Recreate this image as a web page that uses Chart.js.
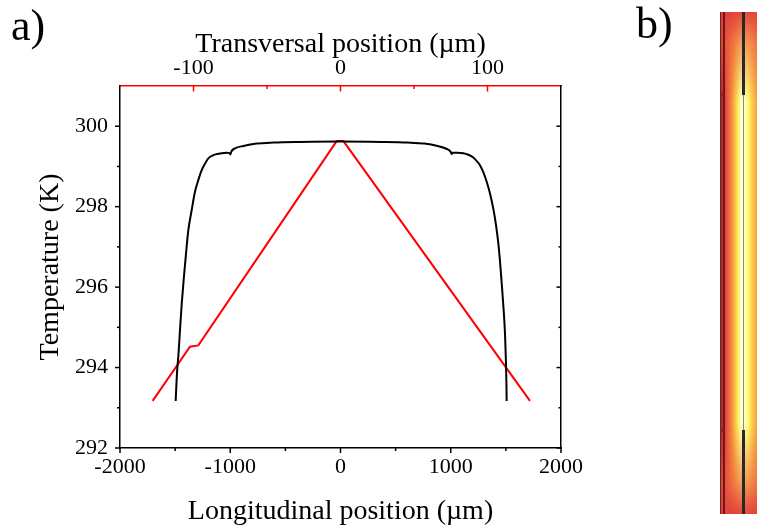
<!DOCTYPE html>
<html><head><meta charset="utf-8">
<script src="https://cdn.jsdelivr.net/npm/chart.js@4/dist/chart.umd.min.js"></script>
<style>
html,body{margin:0;padding:0;background:#fff;width:757px;height:529px;overflow:hidden;}
#wrap{position:relative;width:757px;height:529px;}
canvas{position:absolute;left:0;top:0;}
.lbl{position:absolute;font-family:"Liberation Serif","Times New Roman",serif;font-size:44px;color:#000;line-height:1;}
#panelb{position:absolute;left:720px;top:12px;width:40px;height:502px;overflow:hidden;
 background:linear-gradient(to right,#9a2a2a 0px,#b83030 3px,#e04040 5px,#f06a40 9px,#f8a040 13px,#fce050 17px,#ffff90 20px,#fffff0 22px,#ffffd0 24px,#ffff70 28px,#fcd050 32px,#f8a040 37px);}
#panelb .fade{position:absolute;left:0;width:40px;height:90px;}
#panelb .ln{position:absolute;}
</style></head>
<body><div id="wrap">
<canvas id="c" width="757" height="529"></canvas>
<div class="lbl" style="left:11px;top:4px">a)</div>
<div class="lbl" style="left:636px;top:2px">b)</div>
<div id="panelb">
 <div class="fade" style="top:0;background:linear-gradient(to bottom,rgba(225,60,60,0.95) 0px,rgba(235,90,60,0.65) 30px,rgba(240,130,60,0) 90px);"></div>
 <div class="fade" style="bottom:0;background:linear-gradient(to top,rgba(225,60,60,0.95) 0px,rgba(235,90,60,0.65) 30px,rgba(240,130,60,0) 90px);"></div>
 <div class="ln" style="left:3px;top:0;width:1.5px;height:502px;background:#6a1a1a;"></div>
 <div class="ln" style="left:0;top:0;width:1px;height:502px;background:#7a2020;"></div>
 <div class="ln" style="left:22px;top:0;width:2.5px;height:83px;background:#2a2a1a;"></div>
 <div class="ln" style="left:22.5px;top:83px;width:1.5px;height:335px;background:#8a8a78;"></div>
 <div class="ln" style="left:22px;top:418px;width:2.5px;height:84px;background:#2a2a1a;"></div>
 <div class="ln" style="left:0;top:81px;width:4px;height:4px;background:#8a2020;"></div>
 <div class="ln" style="left:0;top:416px;width:4px;height:4px;background:#8a2020;"></div>
</div>
</div>
<script>
// Black curve: temperature vs longitudinal position (µm)
const longX = [-1495,-1488,-1481,-1471,-1456,-1440,-1420,-1401,-1380,-1350,-1320,-1290,-1259,-1229,-1199,-1154,-1093,-1032,-1005,-998,-990,-957,-881,-760,-609,-367,0,
               367,609,760,881,960,998,1008,1018,1060,1114,1160,1205,1240,1265,1296,1326,1356,1386,1410,1431,1448,1462,1478,1492,1500,1505,1507];
const longT = [293.17,293.6,293.95,294.27,294.93,295.59,296.26,296.84,297.42,297.91,298.37,298.66,298.91,299.07,299.20,299.28,299.32,299.34,299.33,299.30,299.37,299.45,299.51,299.57,299.595,299.61,299.62,
               299.61,299.595,299.57,299.51,299.44,299.37,299.31,299.34,299.34,299.33,299.29,299.22,299.12,299.03,298.85,298.62,298.33,297.95,297.55,297.10,296.6,296.10,295.5,294.85,294.2,293.6,293.17];
// Red curve: temperature vs transversal position (µm)
const transX = [-127.8,-102.4,-96.7,-2.6,2.0,128.9];
const transT = [293.17,294.52,294.55,299.63,299.63,293.17];
// Tick values
const xMajor = [-2000,-1000,0,1000,2000];
const xMinor = [-1500,-500,500,1500];
const x2Major = [-100,0,100];
const x2Minor = [-50,50];
const yMajor = [292,294,296,298,300];
const yMinor = [293,295,297,299];

const SERIF = '"Liberation Serif","Times New Roman",serif';
Chart.defaults.color = '#000';
Chart.defaults.font.family = SERIF;

const tickPlugin = {
  id: 'minorTicks',
  afterDraw(chart) {
    const ctx = chart.ctx, s = chart.scales, a = chart.chartArea;
    ctx.save();
    ctx.lineWidth = 1.5;
    function vt(scale, vals, x, len, color) {
      ctx.strokeStyle = color;
      vals.forEach(v => { const y = scale.getPixelForValue(v); ctx.beginPath(); ctx.moveTo(x, y); ctx.lineTo(x + len, y); ctx.stroke(); });
    }
    function ht(scale, vals, y, len, color) {
      ctx.strokeStyle = color;
      vals.forEach(v => { const x = scale.getPixelForValue(v); ctx.beginPath(); ctx.moveTo(x, y); ctx.lineTo(x, y + len); ctx.stroke(); });
    }
    vt(s.y, yMajor, a.left, -5, '#000');
    vt(s.y, yMinor, a.left, -3, '#000');
    vt(s.y, yMajor, a.right, -4.5, '#000');
    vt(s.y, yMinor, a.right, -2.5, '#000');
    ht(s.x, xMajor, a.bottom, 5, '#000');
    ht(s.x, xMinor, a.bottom, 3, '#000');
    ht(s.x2, x2Major, a.top, 5.5, '#ff0000');
    ht(s.x2, x2Minor, a.top, 3, '#ff0000');
    ctx.restore();
  }
};

const setTicks = vals => scale => { scale.ticks = vals.map(v => ({value: v})); };
const plain = v => String(v);

new Chart(document.getElementById('c'), {
  type: 'line',
  data: {
    datasets: [
      { data: longX.map((x, i) => ({x, y: longT[i]})), xAxisID: 'x', yAxisID: 'y',
        borderColor: '#000', borderWidth: 2, pointRadius: 0, cubicInterpolationMode: 'monotone', fill: false },
      { data: transX.map((x, i) => ({x, y: transT[i]})), xAxisID: 'x2', yAxisID: 'y',
        borderColor: '#ff0000', borderWidth: 2, pointRadius: 0, tension: 0, fill: false }
    ]
  },
  options: {
    responsive: false, animation: false, devicePixelRatio: 1,
    layout: { padding: 0 },
    plugins: { legend: { display: false }, tooltip: { enabled: false } },
    scales: {
      x: {
        type: 'linear', position: 'bottom', min: -2000, max: 2000,
        afterBuildTicks: setTicks(xMajor),
        afterFit: s => { s.height = 81; },
        grid: { display: false, drawTicks: false },
        border: { display: true, color: '#000', width: 1.5 },
        ticks: { font: { size: 22, family: SERIF }, padding: 6, maxRotation: 0, color: '#000', callback: plain },
        title: { display: true, text: 'Longitudinal position (µm)', font: { size: 28, family: SERIF }, color: '#000', padding: { top: 0, bottom: 1 } }
      },
      x2: {
        type: 'linear', position: 'top', min: -150, max: 150,
        afterBuildTicks: setTicks(x2Major),
        afterFit: s => { s.height = 86; },
        grid: { display: false, drawTicks: false },
        border: { display: true, color: '#ff0000', width: 1.5 },
        ticks: { font: { size: 22, family: SERIF }, padding: 5, maxRotation: 0, color: '#000', callback: plain },
        title: { display: true, text: 'Transversal position (µm)', font: { size: 28, family: SERIF }, color: '#000', padding: { top: 28, bottom: 0 } }
      },
      y: {
        type: 'linear', position: 'left', min: 292, max: 301,
        afterBuildTicks: setTicks(yMajor),
        afterFit: s => { s.width = 120; },
        grid: { display: false, drawTicks: false },
        border: { display: true, color: '#000', width: 1.5 },
        ticks: { font: { size: 22, family: SERIF }, padding: 12, color: '#000', callback: plain },
        title: { display: true, text: 'Temperature (K)', font: { size: 28, family: SERIF }, color: '#000', padding: { top: 34, bottom: 0 } }
      },
      y2: {
        type: 'linear', position: 'right', min: 292, max: 301,
        afterBuildTicks: setTicks(yMajor),
        afterFit: s => { s.width = 196; },
        grid: { display: false, drawTicks: false },
        border: { display: true, color: '#000', width: 1.5 },
        ticks: { display: false }
      }
    }
  },
  plugins: [tickPlugin]
});
</script>
</body></html>
